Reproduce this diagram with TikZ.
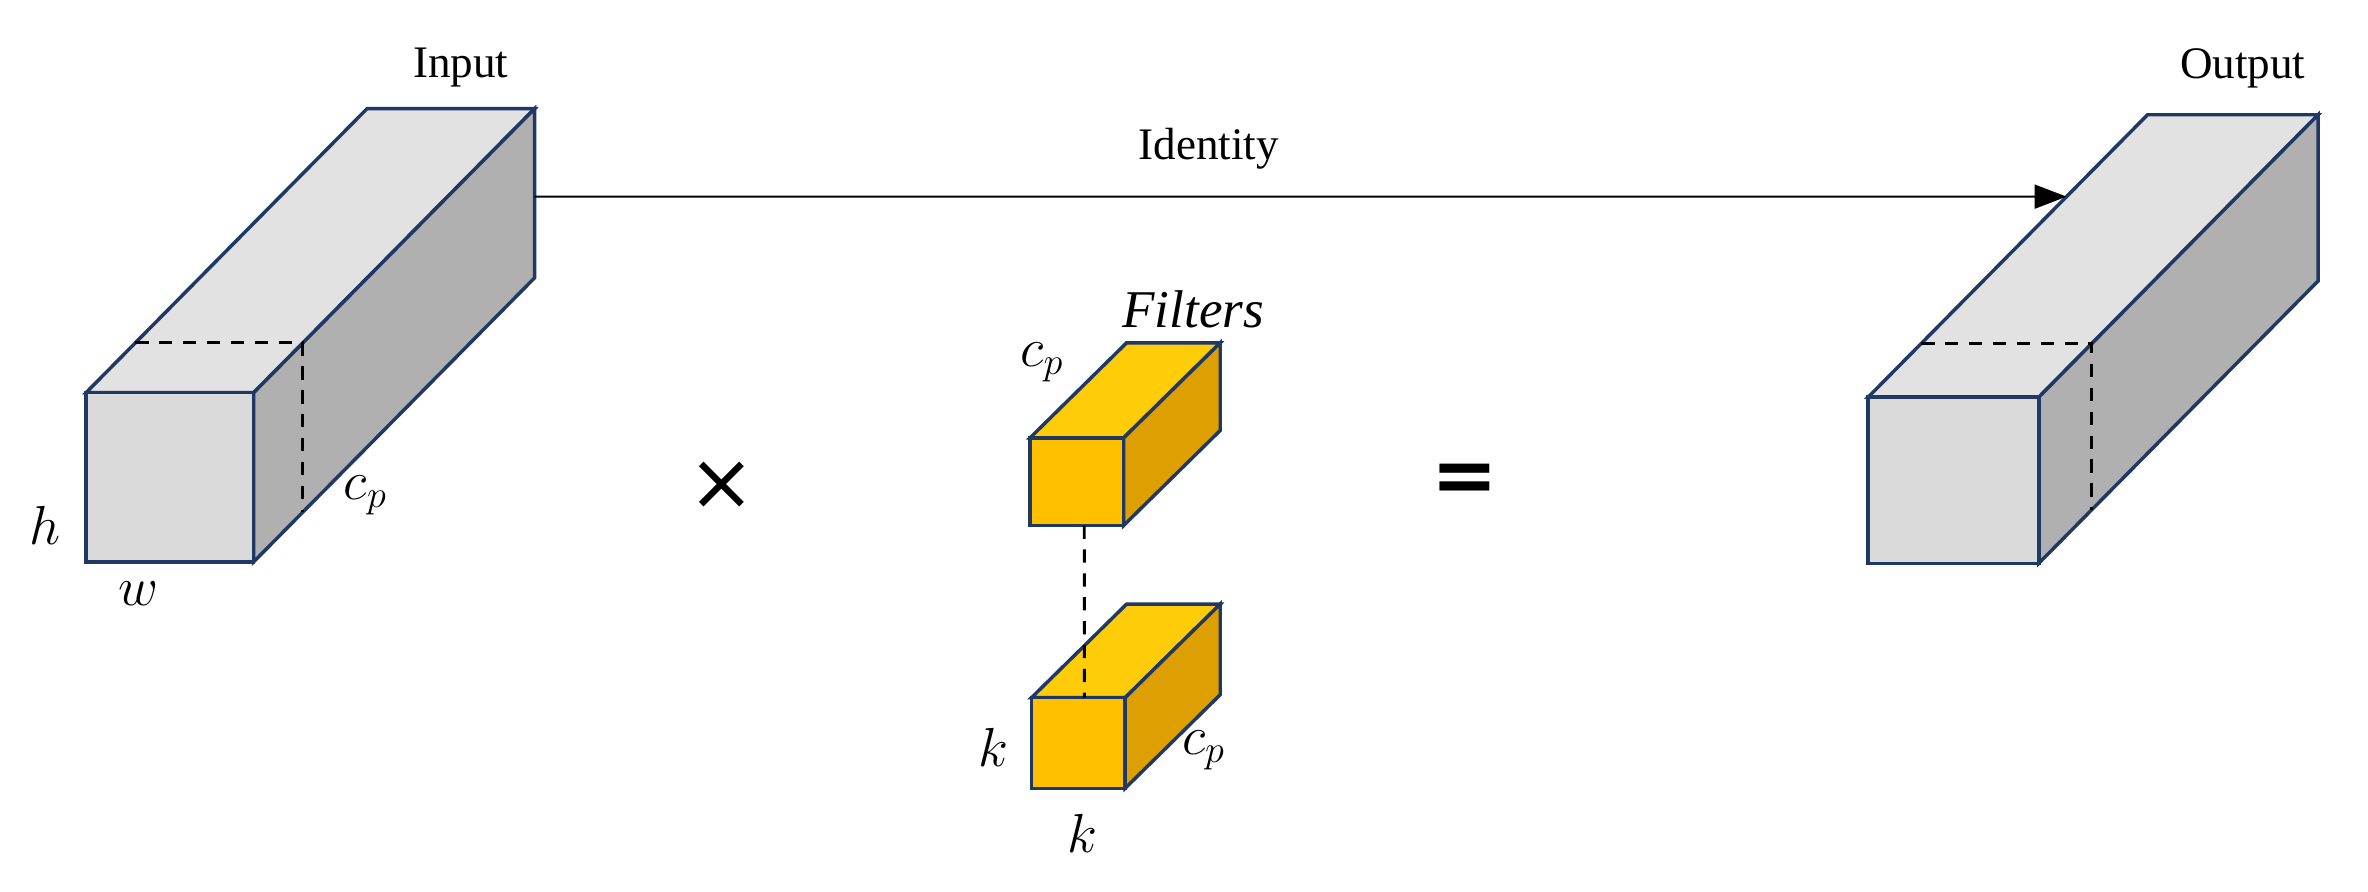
\documentclass[tikz,border=0pt]{standalone}
\usepackage{fontspec}
\setmainfont{Liberation Serif}
\newfontfamily\symfont{DejaVu Sans}
\usetikzlibrary{arrows.meta,calc}
\definecolor{edge}{HTML}{1F3864}
\definecolor{gtop}{HTML}{E2E2E2}
\definecolor{gfront}{HTML}{DADADA}
\definecolor{gside}{HTML}{B0B0B0}
\definecolor{ytop}{HTML}{FFCC0A}
\definecolor{yfront}{HTML}{FFC000}
\definecolor{yside}{HTML}{DDA000}
% #1 name, #2 x, #3 y (front bottom-left), #4 w, #5 h, #6 dx, #7 dy, #8 front, #9 side/top prefix
\newcommand{\mycuboid}[9]{%
  \coordinate (#1-a) at (#2,#3);
  \coordinate (#1-b) at ($(#1-a)+(#4,0)$);
  \coordinate (#1-c) at ($(#1-b)+(0,#5)$);
  \coordinate (#1-d) at ($(#1-a)+(0,#5)$);
  \coordinate (#1-e) at ($(#1-d)+(#6,#7)$);
  \coordinate (#1-f) at ($(#1-c)+(#6,#7)$);
  \coordinate (#1-g) at ($(#1-b)+(#6,#7)$);
  \draw[box,fill=#9top] (#1-d)--(#1-e)--(#1-f)--(#1-c)--cycle;
  \draw[box,fill=#9side] (#1-b)--(#1-c)--(#1-f)--(#1-g)--cycle;
  \draw[box,fill=#8] (#1-a) rectangle (#1-c);
}
\begin{document}
\begin{tikzpicture}[x=0.02cm,y=0.02cm,
  box/.style={draw=edge,line width=1.3pt,line join=miter},
  dsh/.style={dashed,line width=1.1pt,dash pattern=on 5pt off 4pt},
  lbl/.style={font=\fontsize{17}{20}\selectfont,inner sep=0pt},
  mth/.style={font=\fontsize{20}{23}\selectfont,inner sep=0pt}]
\useasboundingbox (0,0) rectangle (1568,590);
% Input
\mycuboid{in}{57}{218}{111}{112}{186}{188}{gfront}{g}
\coordinate (in-p) at ($(in-d)!0.175!(in-e)$);
\coordinate (in-q) at ($(in-c)!0.175!(in-f)$);
\coordinate (in-r) at ($(in-b)!0.175!(in-g)$);
\draw[dsh] (in-p)--(in-q)--(in-r);
% Output
\mycuboid{out}{1237}{217}{113}{110}{185}{187}{gfront}{g}
\coordinate (out-p) at ($(out-d)!0.19!(out-e)$);
\coordinate (out-q) at ($(out-c)!0.19!(out-f)$);
\coordinate (out-r) at ($(out-b)!0.19!(out-g)$);
\draw[dsh] (out-p)--(out-q)--(out-r);
% Filters
\mycuboid{f1}{682}{242}{62}{58}{64}{63}{yfront}{y}
\mycuboid{f2}{683}{68}{62}{60}{63}{62}{yfront}{y}
\coordinate (f1-m) at ($(f1-a)!0.58!(f1-b)$);
\coordinate (f2-m) at ($(f2-d)!0.565!(f2-c)$);
\draw[dsh] (f1-m)--(f2-m);
% Identity arrow
\coordinate (in-s) at ($(in-f)!0.52!(in-g)$);
\coordinate (out-s) at ($(out-d)!0.71!(out-e)$);
\draw[line width=0.8pt,-{Triangle[length=12pt,width=9pt]}] (in-s)--(out-s)
  node[lbl,pos=0.44,above=10pt] (idl) {Identity};
% Labels
\node[lbl] (inl) at (305,545) {Input};
\node[lbl] (outl) at (1485,545) {Output};
\node[mth] (hl) at (30,242) {$h$};
\node[mth] (wl) at (92,197) {$w$};
\node[mth] (cpl) at (242,262) {$c_p$};
\node[font=\symfont\fontsize{30}{34}\selectfont] (times) at (478,268) {×};
\node[font=\symfont\bfseries\fontsize{30}{34}\selectfont] (eq) at (970,270) {=};
\node[mth] (fl) at (790,385) {$\mathit{Filters}$};
\node[mth] (cp1) at (690,350) {$c_p$};
\node[mth] (k1) at (658,95) {$k$};
\node[mth] (cp2) at (797,93) {$c_p$};
\node[mth] (k2) at (717,38) {$k$};
\end{tikzpicture}
\end{document}
